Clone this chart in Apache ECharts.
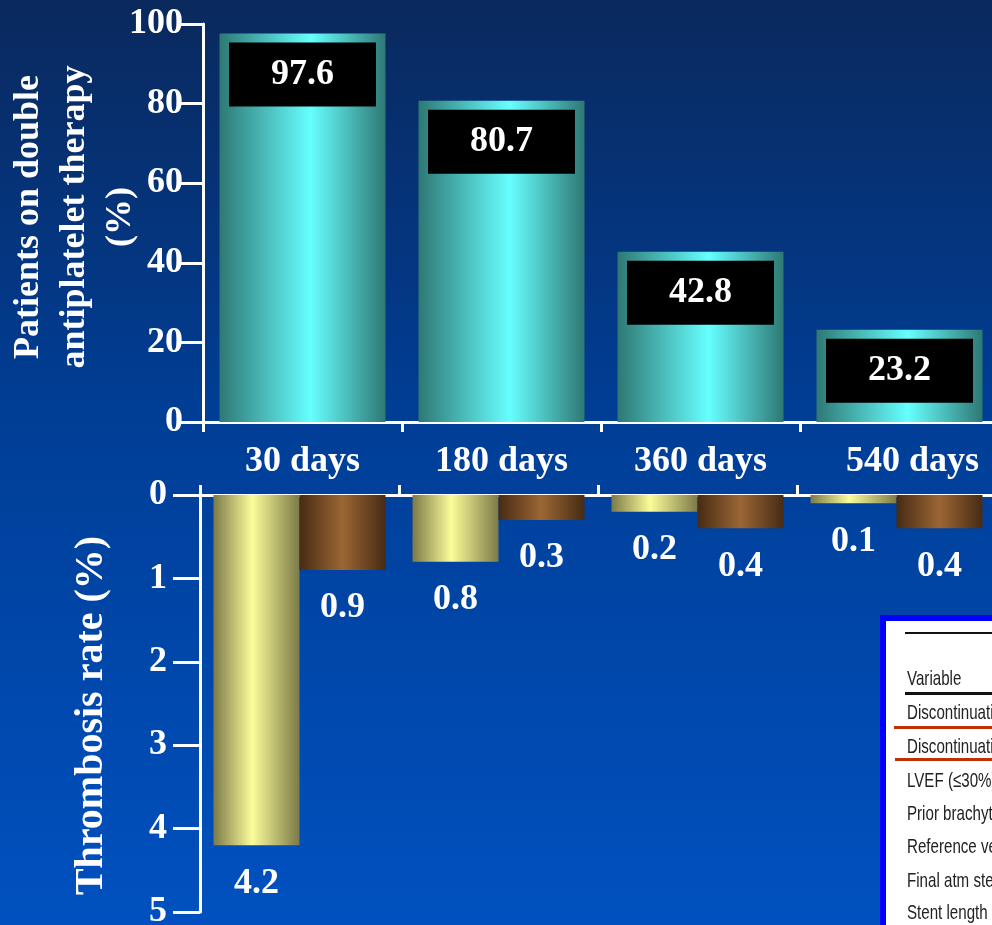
<!DOCTYPE html>
<html>
<head>
<meta charset="utf-8">
<style>
  html, body { margin: 0; padding: 0; }
  #chart { width: 992px; height: 925px; }
</style>
<script src="https://cdn.jsdelivr.net/npm/echarts@6/dist/echarts.min.js"></script>
</head>
<body>
<div id="chart"></div>
<script>
// Follow-up time points shared by both panels
const categories = ['30 days', '180 days', '360 days', '540 days'];
// Upper panel: share of patients still on double antiplatelet therapy (%)
const dualTherapy = [97.6, 80.7, 42.8, 23.2];
// Lower panel: thrombosis rate (%), two groups per time point
const thrombosisLight = [4.2, 0.8, 0.2, 0.1];
const thrombosisDark = [0.9, 0.3, 0.4, 0.4];
// Inset table rows (clipped at the right edge)
const tableHeader = 'Variable';
const tableRows = ['Discontinuation', 'Discontinuation', 'LVEF (\u226430%)', 'Prior brachytherapy',
                   'Reference vessel', 'Final atm stenosis', 'Stent length'];

const SERIF = '"Liberation Serif", "Times New Roman", serif';
const SANS = '"Liberation Sans", Arial, sans-serif';

function hGrad(stops) {
  return { type: 'linear', x: 0, y: 0, x2: 1, y2: 0,
           colorStops: stops.map(s => ({ offset: s[0], color: s[1] })) };
}

const cyanBar = hGrad([[0, '#2e7874'], [0.55, '#66ffff'], [1, '#2e7874']]);
const yellowBar = hGrad([[0, '#7c7a48'], [0.45, '#fbfc99'], [1, '#7c7a48']]);
const brownBar = hGrad([[0, '#472b14'], [0.5, '#9b6634'], [1, '#472b14']]);

const axisLine = { show: true, lineStyle: { color: '#ffffff', width: 3 } };

// Inset table graphics: condensed sans text, horizontally squeezed
const tableX = 907;
function tableText(t, y) {
  return { type: 'text', x: tableX, y: y, scaleX: 0.72,
    style: { text: t, font: '21px ' + SANS, fill: '#222222', verticalAlign: 'middle' } };
}
const tableGraphics = [
  { type: 'rect', shape: { x: 883, y: 618, width: 130, height: 330 },
    style: { fill: '#ffffff', stroke: '#0000ff', lineWidth: 6 } },
  { type: 'rect', shape: { x: 905, y: 632, width: 100, height: 2 }, style: { fill: '#111111' } },
  tableText(tableHeader, 679),
  { type: 'rect', shape: { x: 905, y: 692, width: 100, height: 3 }, style: { fill: '#111111' } },
  { type: 'rect', shape: { x: 894, y: 726, width: 110, height: 3 }, style: { fill: '#c03008' } },
  { type: 'rect', shape: { x: 895, y: 758, width: 110, height: 3 }, style: { fill: '#c03008' } }
];
const rowY = [713, 747, 781, 814, 847, 881, 913];
tableRows.forEach((t, i) => tableGraphics.push(tableText(t, rowY[i])));

const chart = echarts.init(document.getElementById('chart'));
chart.setOption({
  backgroundColor: { type: 'linear', x: 0, y: 0, x2: 0, y2: 1,
    colorStops: [{ offset: 0, color: '#0a295d' }, { offset: 0.45, color: '#003e96' }, { offset: 1, color: '#0051c0' }] },
  animation: false,
  grid: [
    { left: 203, top: 24, width: 796, height: 398, containLabel: false, outerBoundsMode: 'none' },
    { left: 200, top: 495, width: 796, height: 417, containLabel: false, outerBoundsMode: 'none' }
  ],
  xAxis: [
    { type: 'category', gridIndex: 0, data: categories.map((c, i) => i === 3
        ? { value: c, textStyle: { padding: [0, 0, 0, 26] } } : c),
      axisLine: axisLine,
      axisTick: { show: true, length: 10, lineStyle: { color: '#ffffff', width: 3 } },
      axisLabel: { color: '#ffffff', fontFamily: SERIF, fontWeight: 'bold', fontSize: 36, margin: 22 } },
    { type: 'category', gridIndex: 1, position: 'top', data: categories,
      axisLine: axisLine,
      axisTick: { show: true, length: 10, lineStyle: { color: '#ffffff', width: 3 } },
      axisLabel: { show: false } }
  ],
  yAxis: [
    { type: 'value', gridIndex: 0, min: 0, max: 100, interval: 20,
      name: 'Patients on double\nantiplatelet therapy\n(%)', nameLocation: 'middle', nameGap: 59,
      nameMoveOverlap: false,
      nameTextStyle: { color: '#ffffff', fontFamily: SERIF, fontWeight: 'bold', fontSize: 36, lineHeight: 46,
        padding: [0, 0, 0, 12] },
      axisLine: axisLine,
      axisTick: { show: true, length: 25, lineStyle: { color: '#ffffff', width: 3 } },
      axisLabel: { color: '#ffffff', fontFamily: SERIF, fontWeight: 'bold', fontSize: 36, margin: 20 },
      splitLine: { show: false } },
    { type: 'value', gridIndex: 1, min: 0, max: 5, interval: 1, inverse: true,
      name: 'Thrombosis rate (%)', nameLocation: 'middle', nameGap: 88,
      nameMoveOverlap: false,
      nameTextStyle: { color: '#ffffff', fontFamily: SERIF, fontWeight: 'bold', fontSize: 40,
        padding: [0, 24, 0, 0] },
      axisLine: axisLine,
      axisTick: { show: true, length: 27, lineStyle: { color: '#ffffff', width: 3 } },
      axisLabel: { color: '#ffffff', fontFamily: SERIF, fontWeight: 'bold', fontSize: 36, margin: 33 },
      splitLine: { show: false } }
  ],
  series: [
    { type: 'bar', xAxisIndex: 0, yAxisIndex: 0, data: dualTherapy, barWidth: 166,
      itemStyle: { color: cyanBar },
      label: { show: true, position: 'insideTop', distance: 9, color: '#ffffff',
        fontFamily: SERIF, fontWeight: 'bold', fontSize: 36, lineHeight: 40,
        backgroundColor: '#000000', padding: [12, 42] } },
    { type: 'bar', xAxisIndex: 1, yAxisIndex: 1, data: thrombosisLight, barWidth: 86, barGap: '0%',
      itemStyle: { color: yellowBar },
      label: { show: true, position: 'bottom', distance: 20, color: '#ffffff',
        fontFamily: SERIF, fontWeight: 'bold', fontSize: 36 } },
    { type: 'bar', xAxisIndex: 1, yAxisIndex: 1, data: thrombosisDark, barWidth: 86, barGap: '0%',
      itemStyle: { color: brownBar },
      label: { show: true, position: 'bottom', distance: 20, color: '#ffffff',
        fontFamily: SERIF, fontWeight: 'bold', fontSize: 36 } }
  ],
  graphic: tableGraphics
});
</script>
</body>
</html>
